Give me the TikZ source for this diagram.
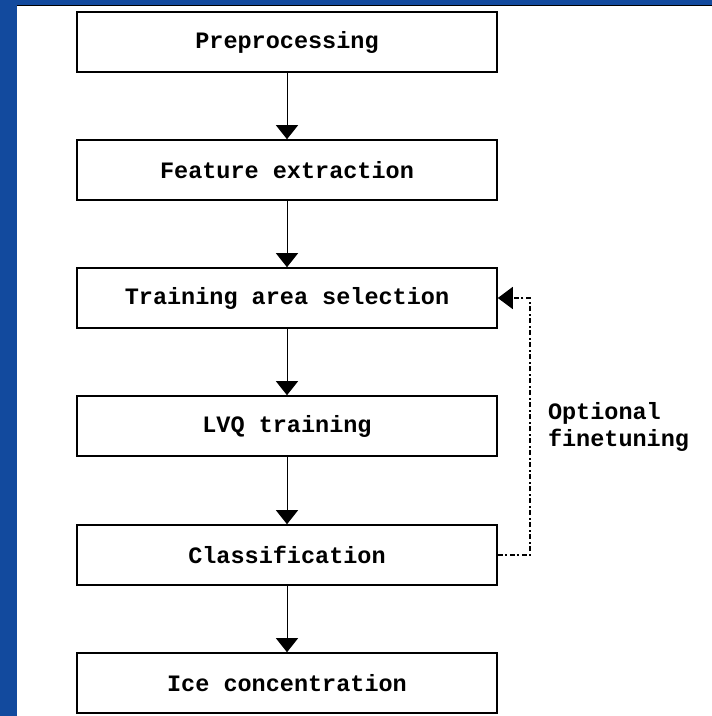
\documentclass[tikz,border=0pt]{standalone}
\usepackage{fontspec}
\setmainfont{Liberation Mono}
\usetikzlibrary{arrows.meta}
\definecolor{slideblue}{RGB}{18,74,158}
\tikzset{
    stepbox/.style={draw,line width=1.6pt,minimum width=420pt,minimum height=60pt,inner sep=0pt,font=\bfseries},
    flow/.style={line width=1pt,-{Triangle[length=14pt,width=22pt]}},
    feedback/.style={line width=1.5pt,dash pattern=on 5pt off 2.5pt on 2pt off 2.5pt,-{Triangle[length=15pt,width=22pt]}}
}
\begin{document}
\begin{tikzpicture}[x=1pt,y=-1pt]
            \fontsize{23.5}{27}\selectfont
            \useasboundingbox (0,0) rectangle (712,716);
            \fill [slideblue] (0,0) rectangle (712,716);
            \fill [white] (17,5) rectangle (712,716);
            \draw [line width=1.5pt] (17,5.5) -- (712,5.5);

            \node [stepbox] (pre) at (287,42) {Preprocessing};
            \node [stepbox] (feat) at (287,170) {Feature extraction};
            \node [stepbox] (sel) at (287,298) {Training area selection};
            \node [stepbox] (lvq) at (287,426) {LVQ training};
            \node [stepbox] (cls) at (287,555) {Classification};
            \node [stepbox] (ice) at (287,683) {Ice concentration};

            \draw [flow] (pre) -- (feat);
            \draw [flow] (feat) -- (sel);
            \draw [flow] (sel) -- (lvq);
            \draw [flow] (lvq) -- (cls);
            \draw [flow] (cls) -- (ice);

            \draw [feedback] (cls.east) -- ++(32,0) |- (sel.east);
            \node [anchor=west,align=left,font=\bfseries] (opt) at (540,427) {Optional\\finetuning};
        \end{tikzpicture}
\end{document}
